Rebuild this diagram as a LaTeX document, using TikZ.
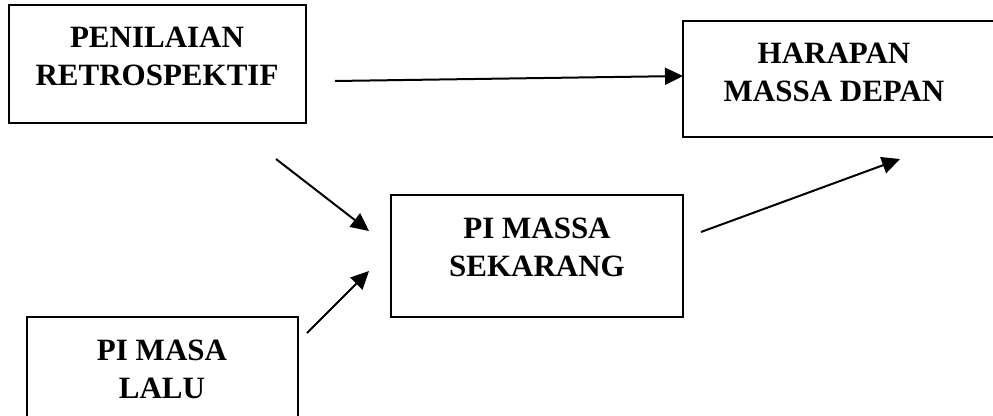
\documentclass[tikz,border=0pt]{standalone}
\usepackage{fontspec}
\setmainfont{Liberation Serif}
\usetikzlibrary{arrows.meta}
\tikzset{
  box/.style={draw=black, line width=2pt, rectangle, inner sep=0pt},
  lbl/.style={align=center, inner sep=0pt, font=\fontsize{31}{38}\selectfont\bfseries},
  conn/.style={line width=2pt, -{Triangle[length=18pt,width=17pt]}}
}
\begin{document}
\begin{tikzpicture}[x=1pt,y=-1pt]
\useasboundingbox (0,0) rectangle (993,415);
% boxes
\node[box, minimum width=297pt, minimum height=118pt] (b1) at (157.5,64) {};
\node[box, minimum width=340pt, minimum height=116pt] (b2) at (853,79) {};
\node[box, minimum width=292pt, minimum height=122pt] (b3) at (537,256) {};
\node[box, minimum width=271pt, minimum height=120pt] (b4) at (162.5,377) {};
% texts
\node[lbl] (t1) at (157,56.5) {PENILAIAN\\RETROSPEKTIF};
\node[lbl] (t2) at (834,72) {HARAPAN\\MASSA DEPAN};
\node[lbl] (t3) at (537,247.5) {PI MASSA\\SEKARANG};
\node[lbl] (t4) at (162,369.5) {PI MASA\\LALU};
% connector ends
\coordinate (s1) at (335,81);
\coordinate (e1) at (683,76);
\coordinate (s2) at (276,159);
\coordinate (e2) at (369,231);
\coordinate (s3) at (307,333);
\coordinate (e3) at (369,271);
\coordinate (s4) at (701,232);
\coordinate (e4) at (900,159);
\draw[conn] (s1) -- (e1);
\draw[conn] (s2) -- (e2);
\draw[conn] (s3) -- (e3);
\draw[conn] (s4) -- (e4);
\end{tikzpicture}
\end{document}
